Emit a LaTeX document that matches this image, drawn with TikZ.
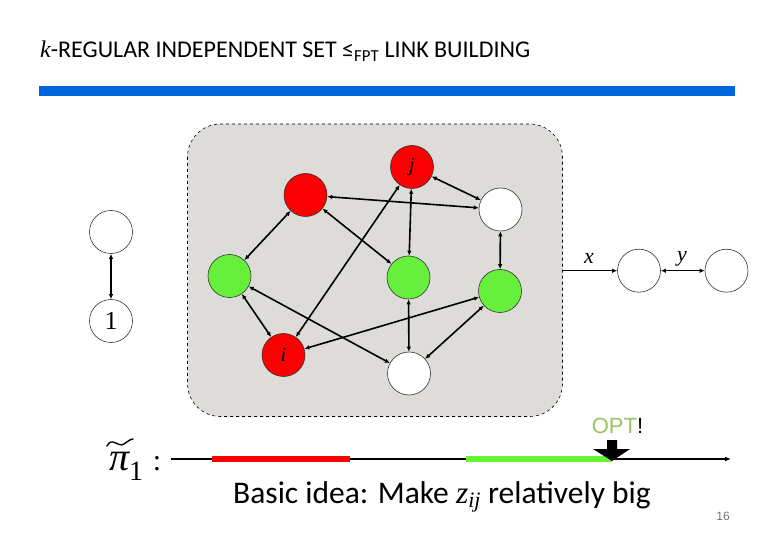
\RequirePackage{fix-cm}
\documentclass[tikz,border=0pt]{standalone}
\usepackage{fontspec}
\setmainfont{Carlito}
\newfontfamily\tnr{Liberation Serif}
\newfontfamily\arialf{Liberation Sans}
\usetikzlibrary{arrows.meta}
\definecolor{boxgray}{RGB}{222,220,217}
\definecolor{nred}{RGB}{250,0,0}
\definecolor{ngreen}{RGB}{102,240,60}
\definecolor{bgreen}{RGB}{102,245,51}
\definecolor{optgreen}{RGB}{155,195,100}
\definecolor{titleblue}{RGB}{0,102,221}
\begin{document}
\begin{tikzpicture}[x=1pt,y=-1pt,
  vtx/.style={circle,draw=black!80,line width=0.6pt,minimum size=43pt,inner sep=0pt,font=\fontsize{20}{22}\selectfont\tnr\itshape},
  redv/.style={vtx,fill=nred},
  greenv/.style={vtx,fill=ngreen},
  whitev/.style={vtx,fill=white},
  edge/.style={line width=1.6pt,{Latex[length=5pt,width=4.5pt]}-{Latex[length=5pt,width=4.5pt]}},
  oneway/.style={line width=1.6pt,-{Latex[length=5pt,width=4.5pt]}},
  lbl/.style={font=\fontsize{22}{24}\selectfont\tnr\itshape,inner sep=0pt}
]
\useasboundingbox[fill=white] (0,0) rectangle (780,540);
% title
\node[anchor=base west,inner sep=0pt,font=\fontsize{24}{26}\selectfont] (title) at (40,58)
  {{\tnr\itshape k}-REGULAR INDEPENDENT SET ≤\textsubscript{FPT} LINK BUILDING};
\fill[titleblue] (39,86) rectangle (735,96);
% grey box
\draw[fill=boxgray,dashed,line width=0.6pt,rounded corners=33pt] (187.5,124) rectangle (562.5,416.5);
\coordinate (boxe) at (562.5,270.7);
% vertices
\node[redv] (j) at (412,167) {j};
\node[redv] (r1) at (305.5,195) {};
\node[whitev] (w1) at (500.5,209.5) {};
\node[greenv] (g1) at (229.5,276) {};
\node[greenv] (g2) at (408.5,277.5) {};
\node[greenv] (g3) at (500,291) {};
\node[redv] (i) at (283.5,355) {i};
\node[whitev] (w2) at (409,373.5) {};
% edges
\draw[edge] (j) -- (w1);
\draw[edge] (r1) -- (w1);
\draw[edge] (r1) -- (g1);
\draw[edge] (r1) -- (g2);
\draw[edge] (j) -- (g2);
\draw[edge] (j) -- (i);
\draw[edge] (g1) -- (i);
\draw[edge] (g1) -- (w2);
\draw[edge] (i) -- (g3);
\draw[edge] (g2) -- (w2);
\draw[edge] (g3) -- (w2);
\draw[edge] (w1) -- (g3);
% left pair
\node[whitev] (a1) at (111,232) {};
\node[whitev,font=\fontsize{26}{28}\selectfont\tnr] (a2) at (111,321) {1};
\draw[edge] (a1) -- (a2);
% right pair
\node[whitev] (x1) at (639,270.7) {};
\node[whitev] (x2) at (726.5,270.7) {};
\draw[oneway] (boxe) -- (x1);
\draw[edge] (x1) -- (x2);
\node[lbl] (xl) at (589,258) {x};
\node[lbl] (yl) at (682,259) {y};
% bottom timeline
\node[anchor=base,inner sep=0pt,font=\fontsize{40}{42}\selectfont\tnr\itshape] (pi) at (120,470) {π};
\node[anchor=base west,inner sep=0pt,font=\fontsize{28}{30}\selectfont\tnr] (sub1) at (129,480) {1};
\draw[line width=1.4pt,line cap=round] (107,446) .. controls (112,436) and (118,448) .. (124,444) .. controls (128,441) and (131,439) .. (133,439);
\node[anchor=base,inner sep=0pt,font=\fontsize{30}{32}\selectfont\tnr] (colon) at (157,470) {:};
\coordinate (ls) at (171,459);
\coordinate (le) at (731,459);
\draw[line width=1.4pt,-{Latex[length=6pt,width=5pt]}] (ls) -- (le);
\draw[nred,line width=6pt] (212,459) -- (350,459);
\draw[bgreen,line width=6pt] (466,459) -- (612,459);
\fill[black] (607,440) -- (617,440) -- (617,449) -- (630,449) -- (612,461) -- (593,449) -- (607,449) -- cycle;
\node[anchor=base,inner sep=0pt,font=\fontsize{22}{24}\selectfont\arialf] (opt) at (617.5,433) {\textcolor{optgreen}{OPT}!};
\node[anchor=base,inner sep=0pt,font=\fontsize{31.5}{33}\selectfont] (basic) at (442,503)
  {Basic idea: Make {\tnr\itshape z}\textsubscript{\tnr\itshape ij} relatively big};
\node[anchor=base,inner sep=0pt,font=\fontsize{12}{13}\selectfont\arialf,text=black!55] (pg) at (723,520) {16};
\end{tikzpicture}
\end{document}
